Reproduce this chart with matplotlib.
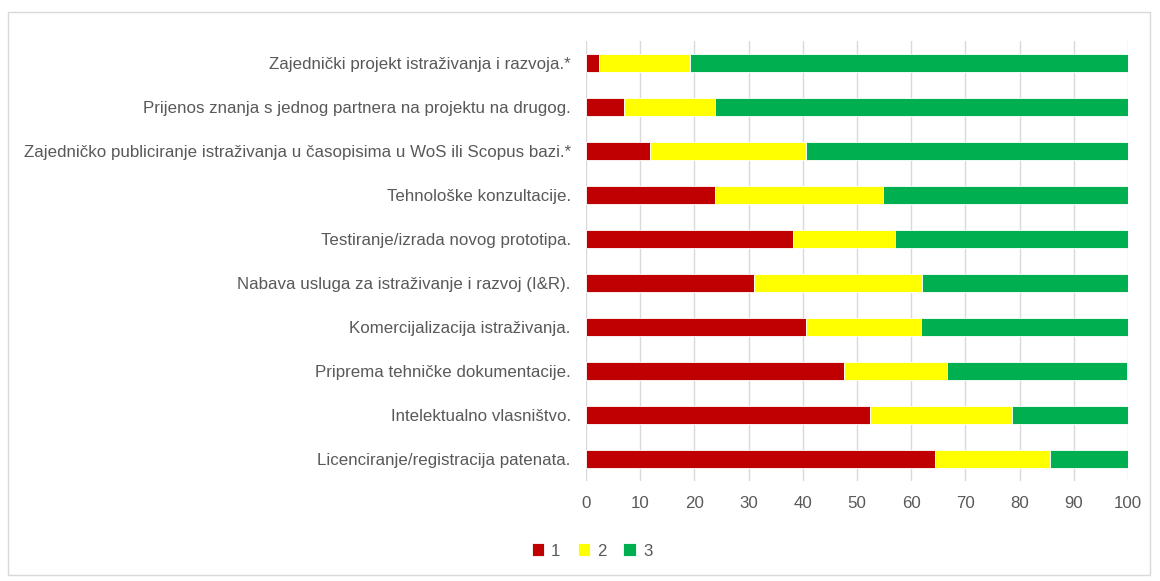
import matplotlib.pyplot as plt
import numpy as np
from matplotlib.patches import Rectangle

categories = [
    'Zajednički projekt istraživanja i razvoja.*',
    'Prijenos znanja s jednog partnera na projektu na drugog.',
    'Zajedničko publiciranje istraživanja u časopisima u WoS ili Scopus bazi.*',
    'Tehnološke konzultacije.',
    'Testiranje/izrada novog prototipa.',
    'Nabava usluga za istraživanje i razvoj (I&R).',
    'Komercijalizacija istraživanja.',
    'Priprema tehničke dokumentacije.',
    'Intelektualno vlasništvo.',
    'Licenciranje/registracija patenata.',
]
s1 = [2.4, 7.1, 11.9, 23.8, 38.1, 31.0, 40.5, 47.6, 52.4, 64.3]
s2 = [16.7, 16.7, 28.6, 31.0, 19.0, 31.0, 21.4, 19.0, 26.2, 21.4]
s3 = [81.0, 76.2, 59.5, 45.2, 42.9, 38.1, 38.1, 33.3, 21.4, 14.3]
series_names = ['1', '2', '3']
colors = ['#C00000', '#FFFF00', '#00B050']

plt.rcParams['font.family'] = ['Liberation Sans', 'DejaVu Sans']
txt = '#595959'

fig = plt.figure(figsize=(11.6, 5.81), dpi=100)
fig.patches.append(Rectangle((8/1160, 6/581), 1142/1160, 563/581, transform=fig.transFigure,
                             fill=False, edgecolor='#D9D9D9', linewidth=1))
ax = fig.add_axes([586/1160, 1-481/581, 542/1160, 440/581])

y = np.arange(len(categories))
left = np.zeros(len(categories))
for vals, name, c in zip([s1, s2, s3], series_names, colors):
    ax.barh(y, vals, left=left, height=0.42, color=c, label=name,
            edgecolor='white', linewidth=0.6, zorder=3)
    left = left + np.array(vals)

ax.set_ylim(len(categories) - 0.5, -0.5)
ax.set_xlim(0, 100)
ax.set_xticks(np.arange(0, 101, 10))
ax.set_yticks(y)
ax.set_yticklabels(categories)
ax.tick_params(axis='both', length=0, labelcolor=txt, labelsize=12.2)
ax.tick_params(axis='x', pad=11)
ax.tick_params(axis='y', pad=11)
ax.xaxis.grid(True, color='#D9D9D9', linewidth=1, zorder=0)
for s in ax.spines.values():
    s.set_visible(False)

ax.legend(loc='center', bbox_to_anchor=(592/1160, 1-551/581), bbox_transform=fig.transFigure,
          ncol=3, frameon=False, fontsize=12.2, labelcolor=txt, handlelength=0.75, handleheight=0.75,
          handletextpad=0.4, columnspacing=1.0)

fig.savefig('out.png', dpi=100, facecolor='white')
